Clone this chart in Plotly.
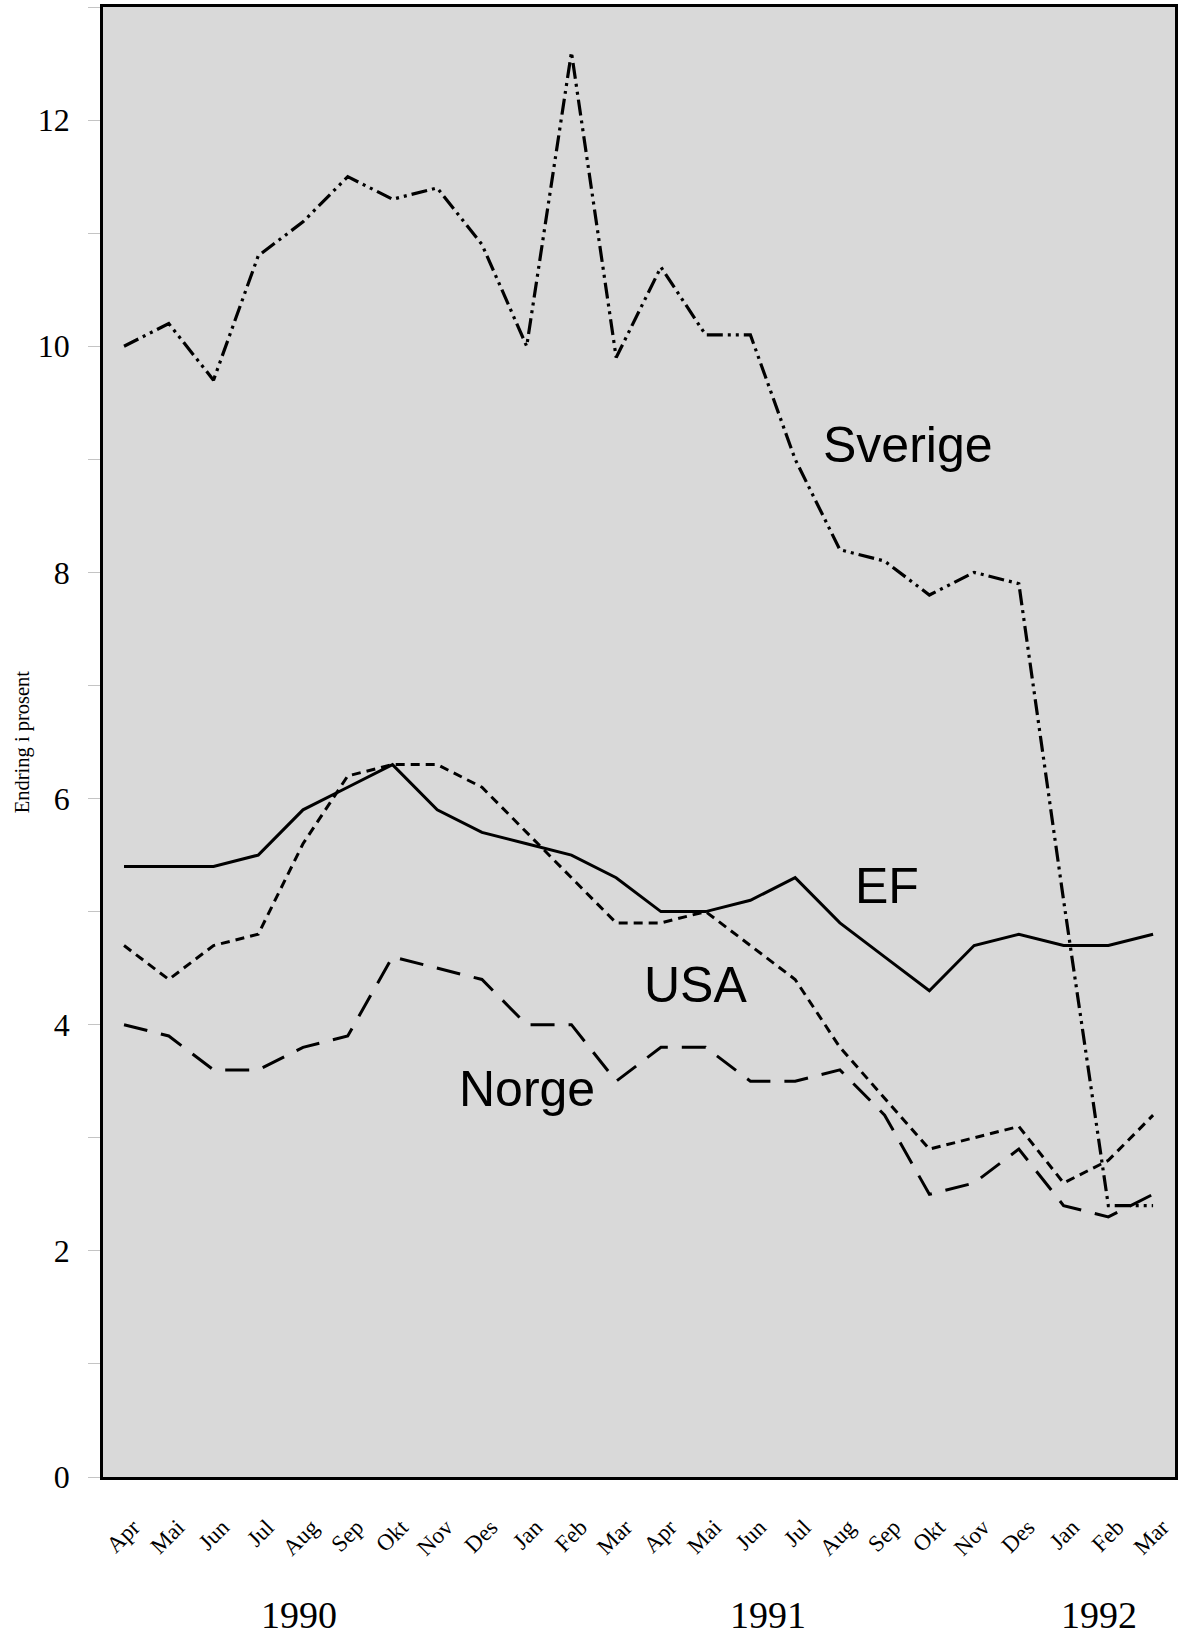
import plotly.graph_objects as go

months = ["Apr", "Mai", "Jun", "Jul", "Aug", "Sep", "Okt", "Nov", "Des", "Jan", "Feb", "Mar",
          "Apr", "Mai", "Jun", "Jul", "Aug", "Sep", "Okt", "Nov", "Des", "Jan", "Feb", "Mar"]
x_idx = list(range(len(months)))

sverige = [10.0, 10.2, 9.7, 10.8, 11.1, 11.5, 11.3, 11.4, 10.9, 10.0, 12.6, 9.9,
           10.7, 10.1, 10.1, 9.0, 8.2, 8.1, 7.8, 8.0, 7.9, 5.1, 2.4, 2.4]
ef = [5.4, 5.4, 5.4, 5.5, 5.9, 6.1, 6.3, 5.9, 5.7, 5.6, 5.5, 5.3,
      5.0, 5.0, 5.1, 5.3, 4.9, 4.6, 4.3, 4.7, 4.8, 4.7, 4.7, 4.8]
usa = [4.7, 4.4, 4.7, 4.8, 5.6, 6.2, 6.3, 6.3, 6.1, 5.7, 5.3, 4.9,
       4.9, 5.0, 4.7, 4.4, 3.8, 3.35, 2.9, 3.0, 3.1, 2.6, 2.8, 3.2]
norge = [4.0, 3.9, 3.6, 3.6, 3.8, 3.9, 4.6, 4.5, 4.4, 4.0, 4.0, 3.5,
         3.8, 3.8, 3.5, 3.5, 3.6, 3.2, 2.5, 2.6, 2.9, 2.4, 2.3, 2.5]

series_labels = ["Sverige", "EF", "USA", "Norge"]
label_x = [17.52, 17.05, 12.77, 9.0]
label_y = [9.13, 5.23, 4.35, 3.43]

years = ["1990", "1991", "1992"]
year_x = [3.9, 14.4, 21.8]

y_title = "Endring i prosent"

SERIF = "Liberation Serif, Times New Roman, serif"
SANS = "Liberation Sans, Arial, sans-serif"

fig = go.Figure()
styles = [
    ("Sverige", sverige, "16px,5px,3px,5px,3px,5px", 3.2),
    ("EF", ef, "solid", 3),
    ("USA", usa, "9px,6px", 3),
    ("Norge", norge, "24px,14px", 3),
]
for name, vals, dash, w in styles:
    fig.add_trace(go.Scatter(x=x_idx, y=vals, mode="lines", name=name,
                             line=dict(color="black", width=w, dash=dash),
                             showlegend=False, hoverinfo="skip"))

annotations = []
for t, xx, yy in zip(series_labels, label_x, label_y):
    annotations.append(dict(x=xx, y=yy, xref="x", yref="y", text=t, showarrow=False,
                            font=dict(family=SANS, size=50, color="black"),
                            xanchor="center", yanchor="middle"))
for t, xx in zip(years, year_x):
    annotations.append(dict(x=xx, y=-0.094, xref="x", yref="paper", text=t, showarrow=False,
                            font=dict(family=SERIF, size=38, color="black"),
                            xanchor="center", yanchor="middle"))
annotations.append(dict(x=-0.0753, y=0.5, xref="paper", yref="paper", text=y_title,
                        showarrow=False, textangle=-90,
                        font=dict(family=SERIF, size=20.5, color="black"),
                        xanchor="center", yanchor="middle"))

fig.update_layout(
    width=1182, height=1636,
    margin=dict(l=103, r=4, t=5, b=159),
    paper_bgcolor="white",
    plot_bgcolor="#d9d9d9",
    annotations=annotations,
    xaxis=dict(range=[-0.47, 23.49], tickvals=x_idx, ticktext=months, tickangle=-45,
               showgrid=False, zeroline=False, showline=True, mirror=True,
               linecolor="black", linewidth=2.5, ticks="",
               ticklabelstandoff=25, ticklabelshift=9,
               tickfont=dict(family=SERIF, size=23, color="black")),
    yaxis=dict(range=[0, 13], tickvals=[0, 2, 4, 6, 8, 10, 12],
               showgrid=False, zeroline=False, showline=True, mirror=True,
               linecolor="black", linewidth=2.5,
               ticks="outside", ticklen=12, tickcolor="#c4c4c4", tickwidth=1,
               minor=dict(dtick=1, ticks="outside", ticklen=12, tickcolor="#c4c4c4", tickwidth=1),
               ticklabelstandoff=12,
               tickfont=dict(family=SERIF, size=32, color="black")),
)

fig.write_html("out.html", config={"displayModeBar": False},
               post_script="document.body.style.margin='0';")
